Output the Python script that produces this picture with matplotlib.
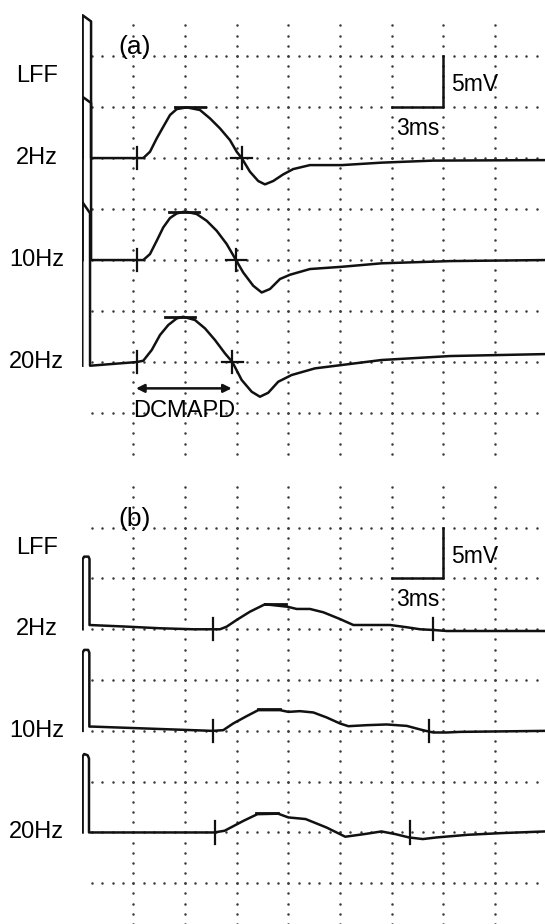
import numpy as np
import matplotlib
matplotlib.use("Agg")
import matplotlib.pyplot as plt

plt.rcParams["font.family"] = ["Liberation Sans", "DejaVu Sans"]

## Data (time in ms, amplitude in mV relative to each trace baseline)
rows = ["2Hz", "10Hz", "20Hz"]
offsets = [25, 15, 5]  # baseline of each trace on the panel (mV)

# panel (a)
a_2hz_t = [0.06, 0.06, 0.55, 0.55, 3.20, 3.58, 3.97, 4.36, 4.74, 5.13, 5.52, 6.10, 6.87, 7.45, 8.03,
           8.61, 9.00, 9.29, 9.77, 10.25, 10.64, 11.12, 11.70, 12.28, 13.25, 15.10, 17.40, 20.40, 26.9]
a_2hz_v = [0, 14.0, 13.4, 0, 0, 0, 0.62, 1.93, 3.07, 4.22, 4.80, 4.97, 4.71, 3.89, 2.91,
           1.76, 0.62, 0, -1.34, -2.25, -2.58, -2.25, -1.60, -1.08, -0.69, -0.69, -0.45, -0.25, -0.2]
a_10hz_t = [0.06, 0.06, 0.55, 0.55, 3.20, 3.58, 3.97, 4.36, 4.74, 5.13, 5.52, 6.00, 6.68, 7.26, 7.84,
            8.42, 8.96, 9.38, 9.96, 10.45, 10.93, 11.51, 12.09, 13.25, 15.10, 17.40, 21.40, 26.9]
a_10hz_v = [0, 16.0, 15.4, 0, 0, 0, 0.59, 1.89, 3.20, 4.12, 4.57, 4.76, 4.51, 3.85, 2.87,
            1.57, 0, -1.22, -2.52, -3.18, -2.84, -1.86, -1.44, -0.88, -0.66, -0.32, -0.1, 0]
a_20hz_t = [0.04, 0.04, 0.49, 0.49, 3.20, 3.58, 4.07, 4.55, 5.03, 5.52, 5.90, 6.58, 7.16, 7.74, 8.32,
            8.75, 9.29, 9.87, 10.35, 10.83, 11.41, 12.19, 13.54, 15.10, 17.40, 21.40, 26.9]
a_20hz_v = [-0.36, 15.7, 14.6, -0.36, 0, 0.13, 1.18, 2.65, 3.63, 4.28, 4.44, 4.12, 3.30, 2.16, 0.85,
            0, -1.76, -2.91, -3.40, -3.01, -1.93, -1.27, -0.62, -0.29, 0.2, 0.59, 0.78]
a_onset = [3.20, 3.20, 3.20]
a_offset = [9.29, 8.96, 8.75]
a_peak_t = [6.30, 5.94, 5.69]
a_peak_v = [4.97, 4.76, 4.44]

# panel (b)
b_2hz_t = [0.06, 0.06, 0.15, 0.40, 0.46, 0.46, 2.62, 4.55, 6.48, 8.03, 8.42, 9.00, 9.77, 10.64, 11.94,
           12.48, 13.25, 14.03, 14.99, 15.77, 16.93, 17.90, 18.87, 19.64, 20.41, 21.19, 21.96, 26.9]
b_2hz_v = [0, 6.9, 7.15, 7.15, 6.9, 0.42, 0.26, 0.1, 0, 0, 0.26, 0.92, 1.73, 2.46, 2.22,
           2.0, 2.0, 1.67, 1.01, 0.42, 0.42, 0.42, 0.2, 0, -0.07, -0.17, -0.17, -0.17]
b_10hz_t = [0.06, 0.06, 0.15, 0.38, 0.45, 0.45, 0.64, 7.60, 8.22, 8.80, 9.58, 10.25, 11.51, 12.00,
            12.67, 13.45, 14.22, 14.99, 15.48, 16.54, 17.70, 18.87, 19.64, 20.18, 20.41, 21.19, 21.96, 26.9]
b_10hz_v = [0, 7.7, 7.97, 7.97, 7.7, 0.42, 0.42, 0, 0.07, 0.73, 1.45, 2.04, 2.04, 1.87,
            1.94, 1.81, 1.32, 0.73, 0.46, 0.56, 0.63, 0.49, 0.14, -0.08, -0.16, -0.16, -0.1, 0]
b_20hz_t = [0.06, 0.06, 0.15, 0.35, 0.43, 0.43, 0.64, 7.70, 8.30, 9.40, 10.20, 11.40, 12.00, 13.00,
            14.21, 15.30, 16.41, 17.40, 18.20, 19.00, 19.80, 20.60, 22.41, 24.41, 26.9]
b_20hz_v = [0, 7.5, 7.72, 7.6, 7.28, 0, 0, 0, 0.17, 1.15, 1.80, 1.85, 1.48, 1.32,
            0.49, -0.42, -0.16, 0.1, -0.16, -0.49, -0.65, -0.49, -0.23, -0.06, 0.1]
b_onset = [7.63, 7.64, 7.76]
b_offset = [20.41, 20.18, 19.06]
b_peak_t = [11.25, 10.87, 10.75]
b_peak_v = [2.46, 2.13, 1.87]

# DCMAPD arrow (panel a)
dcmapd_t = [3.16, 8.71]
dcmapd_v = 2.42

## Figure
fig = plt.figure(figsize=(5.45, 9.24), dpi=100)
ax_a = fig.add_axes([0.1497, 0.5043, 0.8503, 0.4848])
ax_b = fig.add_axes([0.1497, 0.0, 0.8503, 0.4751])
ax_a.set_ylim(-4.41, 39.51)
ax_b.set_ylim(-4.01, 39.20)

ink = "#111111"
dot = "#3a3a3a"


def draw_grid(ax, vmin, vmax):
    # dotted paper grid: 3 ms x 5 mV divisions, 5 dots per division
    for v in range(0, 40, 5):
        xs = np.arange(0.6, 26.9, 0.6)
        ax.plot(xs, np.full_like(xs, v), "o", ms=1.8, color=dot, mec="none")
    for t in range(3, 27, 3):
        ys = np.arange(vmin, vmax + 1, 1)
        ax.plot(np.full_like(ys, t, dtype=float), ys, "o", ms=1.8, color=dot, mec="none")


def draw_panel(ax, traces, onset, offset, peak_t, peak_v, peak_w, cross_w, letter):
    ax.set_xlim(0, 26.89)
    ax.axis("off")
    for (t, v), off, on, end, pt, pv, name in zip(traces, offsets, onset, offset, peak_t, peak_v, rows):
        ax.plot(t, np.array(v) + off, color=ink, lw=1.8, solid_joinstyle="round")
        # onset / end ticks
        ax.plot([on, on], [off - 1.1, off + 1.1], color=ink, lw=1.6)
        ax.plot([end, end], [off - 1.1, off + 1.1], color=ink, lw=1.6)
        if cross_w:
            ax.plot([end - cross_w, end + cross_w], [off, off], color=ink, lw=1.6)
        # peak marker
        ax.plot([pt - peak_w, pt + peak_w], [pv + off, pv + off], color=ink, lw=2.0)
        ax.text(-2.6, off, name, fontsize=17, ha="center", va="center")
    ax.text(-2.6, 33.0, "LFF", fontsize=17, ha="center", va="center")
    ax.text(3.05, 35.9, letter, fontsize=19, ha="center", va="center")
    # calibration bar: 3 ms / 5 mV
    ax.plot([18, 21, 21], [30, 30, 35], color=ink, lw=1.8)
    ax.text(21.45, 32.2, "5mV", fontsize=16.5, ha="left", va="center")
    ax.text(19.5, 27.9, "3ms", fontsize=16.5, ha="center", va="center")


draw_grid(ax_a, -4, 38)
draw_grid(ax_b, -4, 39)

draw_panel(ax_a, [(a_2hz_t, a_2hz_v), (a_10hz_t, a_10hz_v), (a_20hz_t, a_20hz_v)],
           a_onset, a_offset, a_peak_t, a_peak_v, 0.87, 0.6, "(a)")
draw_panel(ax_b, [(b_2hz_t, b_2hz_v), (b_10hz_t, b_10hz_v), (b_20hz_t, b_20hz_v)],
           b_onset, b_offset, b_peak_t, b_peak_v, 0.62, 0, "(b)")

ax_a.annotate("", xy=(dcmapd_t[1], dcmapd_v), xytext=(dcmapd_t[0], dcmapd_v),
              arrowprops=dict(arrowstyle="<|-|>", color=ink, lw=1.8, mutation_scale=12,
                              shrinkA=0, shrinkB=0))
ax_a.text(sum(dcmapd_t) / 2, 0.2, "DCMAPD", fontsize=17, ha="center", va="center")

fig.savefig("out.png", dpi=100, facecolor="white")
